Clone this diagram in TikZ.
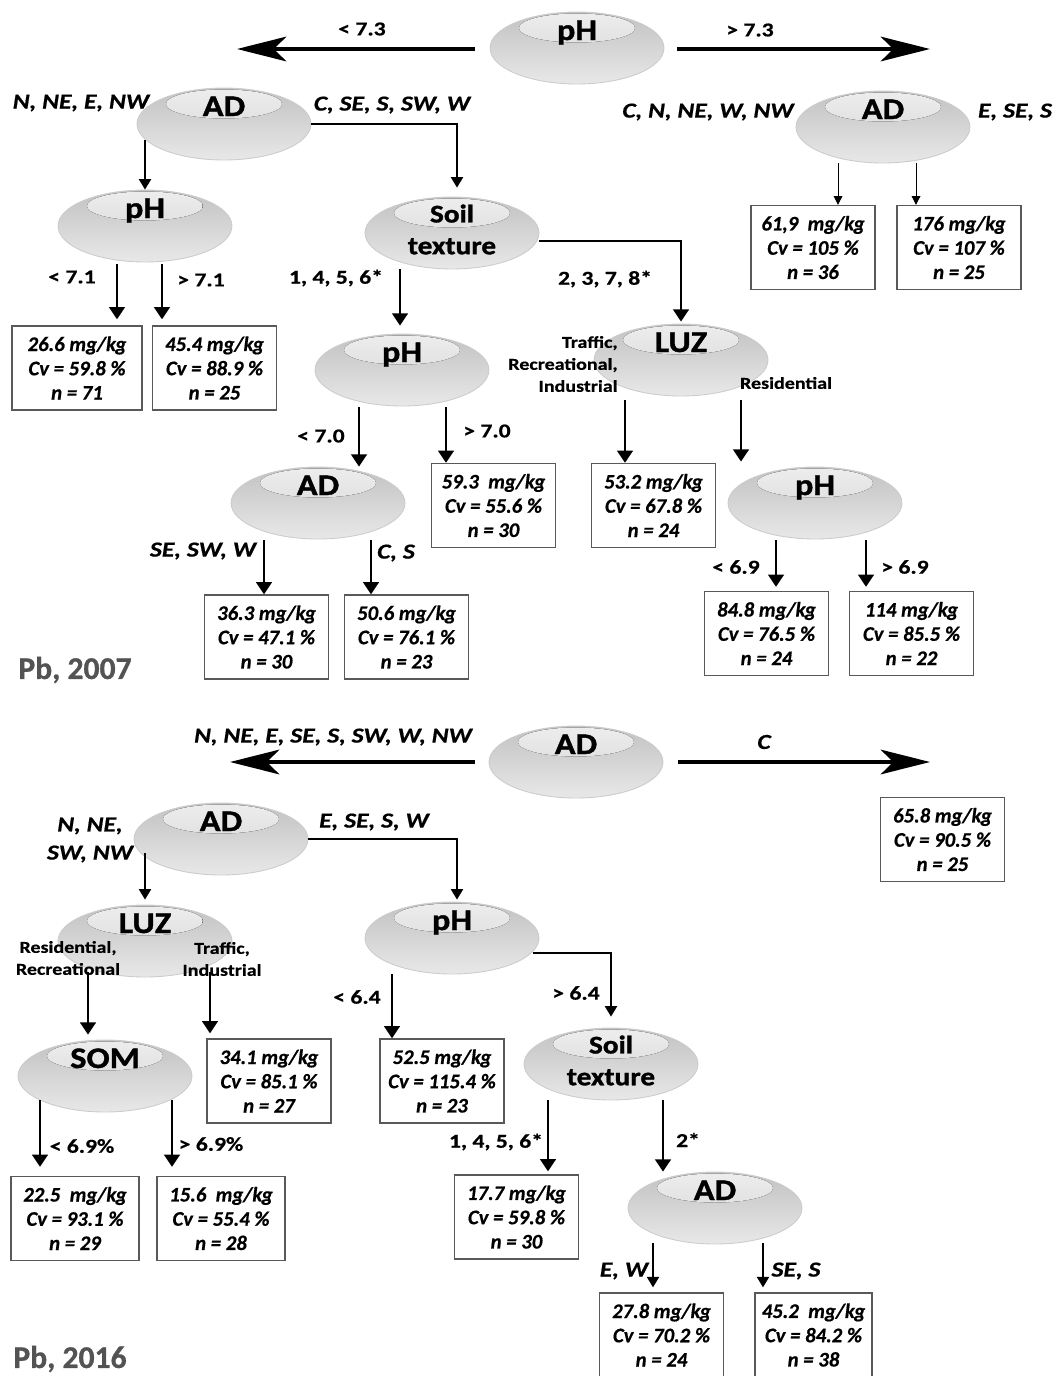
\documentclass[tikz,border=0pt]{standalone}
\usepackage{fontspec}
\setmainfont{Carlito}
\newfontfamily\titlefont[FakeStretch=1.15,FakeBold=1.2]{Carlito Bold}
\newfontfamily\labfont[FakeStretch=1.2,FakeBold=0.6]{Carlito Bold}
\newfontfamily\labitfont[FakeStretch=1.2,FakeBold=0.6]{Carlito Bold Italic}
\newfontfamily\boxfont[FakeBold=0.6]{Carlito Bold Italic}
\newfontfamily\yrfont[FakeBold=0.8]{Carlito Bold}
\usetikzlibrary{shapes.geometric,arrows.meta}

\tikzset{
  blob/.style={ellipse,inner sep=0pt,minimum width=3.48cm,minimum height=1.44cm,
    draw=gray!40,line width=0.5pt,top color=gray!48,bottom color=gray!18,
    path picture={\fill[top color=gray!14,bottom color=gray!34]
      ([yshift=-0.32cm]path picture bounding box.north) ellipse (1.16cm and 0.29cm);}},
  btxt/.style={font=\titlefont\fontsize{17}{18.1}\selectfont,inner sep=0pt,align=center},
  soiltxt/.style={font=\titlefont\fontsize{14.5}{18.1}\selectfont,inner sep=0pt,align=center},
  res/.style={draw=gray!70!black,line width=0.8pt,minimum width=2.48cm,minimum height=1.68cm,
    inner sep=0pt,align=center,font=\boxfont\fontsize{11.8}{13.8}\selectfont},
  cond/.style={font=\labfont\fontsize{11.2}{13}\selectfont,inner sep=0pt},
  dirlab/.style={font=\labitfont\fontsize{12.2}{16}\selectfont,inner sep=0pt,align=center},
  luzlab/.style={font=\labfont\fontsize{9.5}{12.5}\selectfont,inner sep=0pt},
  yr/.style={font=\yrfont\fontsize{18}{20}\selectfont,text=gray!65!black,inner sep=0pt},
  big/.style={line width=2.2pt,-{Stealth[length=28pt,width=14pt,inset=7pt]}},
  arr/.style={line width=1.4pt,-{Triangle[length=7pt,width=9pt]}},
  marr/.style={line width=0.9pt,-{Triangle[length=6pt,width=7pt]}},
  tarr/.style={line width=0.5pt,-{Triangle[length=5pt,width=5pt]}}
}

\begin{document}
\begin{tikzpicture}[x=0.02cm,y=0.02cm]
  \useasboundingbox (0,0) rectangle (1055,-1376);
  % Pb, 2007
  \node[blob] (ph0) at (577,-48) {};
  \node[btxt,anchor=base] (ph0t) at ([yshift=0.16cm]ph0.center) {pH};
  \coordinate (lt) at (237,-49);
  \coordinate (rt) at (930,-49);
  \draw[big] (ph0.west) ++(-15,-1) -- (lt);
  \draw[big] (ph0.east) ++(13,-1) -- (rt);
  \node[cond] (c73a) at (362,-29) {< 7.3};
  \node[cond] (c73b) at (750,-30) {> 7.3};

  \node[blob] (adL) at (224,-124) {};
  \node[btxt,anchor=base] (adLt) at ([yshift=0.16cm]adL.center) {AD};
  \node[dirlab] (dL1) at (81,-103) {N, NE, E, NW};
  \node[dirlab] (dL2) at (392,-105) {C, SE, S, SW, W};
  \node[blob] (adR) at (883,-127) {};
  \node[btxt,anchor=base] (adRt) at ([yshift=0.16cm]adR.center) {AD};
  \node[dirlab] (dR1) at (708,-112) {C, N, NE, W, NW};
  \node[dirlab] (dR2) at (1015,-112) {E, SE, S};

  \node[blob] (ph1) at (145,-226) {};
  \node[btxt,anchor=base] (ph1t) at ([yshift=0.16cm]ph1.center) {pH};
  \node[blob] (soil1) at (452,-233) {};
  \node[soiltxt] (soil1t) at ([yshift=0.07cm]soil1.center) {Soil\\texture};
  \node[cond] (c71a) at (72,-277) {< 7.1};
  \node[cond] (c71b) at (201,-280) {> 7.1};
  \node[cond] (tx1) at (336,-278) {1, 4, 5, 6*};
  \node[cond] (tx2) at (605,-279) {2, 3, 7, 8*};

  \node[res,minimum width=2.6cm] (a1) at (77,-368) {26.6 mg/kg\\Cv = 59.8 \%\\n = 71};
  \node[res] (b1) at (214.5,-368) {45.4 mg/kg\\Cv = 88.9 \%\\n = 25};
  \node[res] (c1) at (813,-247.5) {61,9 \ mg/kg\\Cv = 105 \%\\n = 36};
  \node[res] (d1) at (959,-247.5) {176 mg/kg\\Cv = 107 \%\\n = 25};

  \node[blob] (ph2) at (402,-370) {};
  \node[btxt,anchor=base] (ph2t) at ([yshift=0.16cm]ph2.center) {pH};
  \node[blob] (luz1) at (681,-360) {};
  \node[btxt,anchor=base] (luz1t) at ([yshift=0.16cm]luz1.center) {LUZ};
  \node[luzlab,align=right,anchor=east] (lz1) at (618,-364) {Traffic,\\Recreational,\\Industrial};
  \node[luzlab] (lz2) at (786,-383) {Residential};
  \node[cond] (c70a) at (321,-436) {< 7.0};
  \node[cond] (c70b) at (487,-431) {> 7.0};
  \node[res] (e1) at (493.5,-505.5) {59.3 \ mg/kg\\Cv = 55.6 \%\\n = 30};
  \node[res] (f1) at (653.5,-505.5) {53.2 mg/kg\\Cv = 67.8 \%\\n = 24};

  \node[blob] (ad2) at (318,-503) {};
  \node[btxt,anchor=base] (ad2t) at ([yshift=0.16cm]ad2.center) {AD};
  \node[blob] (ph3) at (815,-503) {};
  \node[btxt,anchor=base] (ph3t) at ([yshift=0.16cm]ph3.center) {pH};
  \node[dirlab] (d21) at (203,-551) {SE, SW, W};
  \node[dirlab] (d22) at (396,-553) {C, S};
  \node[cond] (c69a) at (736,-567) {< 6.9};
  \node[cond] (c69b) at (905,-567) {> 6.9};
  \node[res] (g1) at (266.5,-637) {36.3 mg/kg\\Cv = 47.1 \%\\n = 30};
  \node[res] (h1) at (406.5,-637) {50.6 mg/kg\\Cv = 76.1 \%\\n = 23};
  \node[res] (i1) at (766.5,-633.5) {84.8 mg/kg\\Cv = 76.5 \%\\n = 24};
  \node[res] (j1) at (911.5,-633.5) {114 mg/kg\\Cv = 85.5 \%\\n = 22};
  \node[yr] (y1) at (75,-670) {Pb, 2007};

  \draw[marr] (adL.south) ++(-79,20) coordinate (t) -- (t |- ph1.north);
  \draw[marr,shorten >=0.18cm] (adL.east) -| ([xshift=0.1cm]soil1.north);
  \draw[arr,shorten >=0.12cm] (ph1.south) ++(-28,-2) coordinate (t) -- (t |- a1.north);
  \draw[arr,shorten >=0.12cm] (ph1.south) ++(17,-2) coordinate (t) -- (t |- b1.north);
  \draw[arr,shorten >=0.16cm] (soil1.south) ++(-52,0) coordinate (t) -- (t |- ph2.north);
  \draw[arr,shorten >=0.04cm] (soil1.east) ++(0,-8) -| (luz1.north);
  \draw[tarr] (adR.south) ++(-45,0) coordinate (t) -- (t |- c1.north);
  \draw[tarr] (adR.south) ++(33,0) coordinate (t) -- (t |- d1.north);
  \draw[arr] (ph2.south) ++(-43,-1) coordinate (t) -- (t |- ad2.north);
  \draw[arr] (ph2.south) ++(44,-1) coordinate (t) -- (t |- e1.north);
  \draw[arr] (luz1.south) ++(-56,-4) coordinate (t) -- (t |- f1.north);
  \draw[arr,shorten >=0.1cm] (luz1.south) ++(60,-4) coordinate (t) -- (t |- ph3.north);
  \draw[arr] (ad2.south) ++(-54,-1) coordinate (t) -- (t |- g1.north);
  \draw[arr] (ad2.south) ++(53,-1) coordinate (t) -- (t |- h1.north);
  \draw[arr,shorten >=0.08cm] (ph3.south) ++(-39,-1) coordinate (t) -- (t |- i1.north);
  \draw[arr,shorten >=0.08cm] (ph3.south) ++(51,-1) coordinate (t) -- (t |- j1.north);

  % Pb, 2016
  \node[blob] (ad0) at (576,-762) {};
  \node[btxt,anchor=base] (ad0t) at ([yshift=0.16cm]ad0.center) {AD};
  \coordinate (lt2) at (230,-762);
  \coordinate (rt2) at (930,-762);
  \draw[big] (ad0.west) ++(-14,0) -- (lt2);
  \draw[big] (ad0.east) ++(15,0) -- (rt2);
  \node[dirlab] (d01) at (333,-737) {N, NE, E, SE, S, SW, W, NW};
  \node[dirlab] (d02) at (764,-742) {C};
  \node[res] (k2) at (942.5,-839.5) {65.8 mg/kg\\Cv = 90.5 \%\\n = 25};

  \node[blob] (ad3) at (221,-839) {};
  \node[btxt,anchor=base] (ad3t) at ([yshift=0.16cm]ad3.center) {AD};
  \node[dirlab] (d31) at (90,-840) {N, NE,\\SW, NW};
  \node[dirlab] (d32) at (374,-822) {E, SE, S, W};

  \node[blob] (luz2) at (145,-941) {};
  \node[btxt,anchor=base] (luz2t) at ([yshift=0.16cm]luz2.center) {LUZ};
  \node[luzlab,align=center] (lz3) at (68,-958) {Residential,\\Recreational};
  \node[luzlab,align=center] (lz4) at (222,-959) {Traffic,\\Industrial};
  \node[blob] (ph4) at (452,-938) {};
  \node[btxt,anchor=base] (ph4t) at ([yshift=0.16cm]ph4.center) {pH};
  \node[cond] (c64a) at (357,-997) {< 6.4};
  \node[cond] (c64b) at (576,-993) {> 6.4};

  \node[blob] (som) at (105,-1076) {};
  \node[btxt,anchor=base] (somt) at ([yshift=0.16cm]som.center) {SOM};
  \node[res] (l2) at (269,-1081) {34.1 mg/kg\\Cv = 85.1 \%\\n = 27};
  \node[res] (m2) at (442,-1081) {52.5 mg/kg\\Cv = 115.4 \%\\n = 23};
  \node[blob] (soil2) at (611,-1064) {};
  \node[soiltxt] (soil2t) at ([yshift=0.07cm]soil2.center) {Soil\\texture};
  \node[cond] (s69a) at (82,-1146) {< 6.9\%};
  \node[cond] (s69b) at (211,-1144) {> 6.9\%};
  \node[cond] (tx3) at (496,-1142) {1, 4, 5, 6*};
  \node[cond] (tx4) at (688,-1140) {2*};
  \node[res,minimum width=2.56cm] (n2) at (75,-1218.5) {22.5 \ mg/kg\\Cv = 93.1 \%\\n = 29};
  \node[res,minimum width=2.56cm] (o2) at (221,-1218.5) {15.6 \ mg/kg\\Cv = 55.4 \%\\n = 28};
  \node[res] (p2) at (516.5,-1217) {17.7 mg/kg\\Cv = 59.8 \%\\n = 30};

  \node[blob] (ad4) at (715,-1208) {};
  \node[btxt,anchor=base] (ad4t) at ([yshift=0.16cm]ad4.center) {AD};
  \node[dirlab] (d41) at (624,-1271) {E, W};
  \node[dirlab] (d42) at (796,-1271) {SE, S};
  \node[res] (q2) at (661.5,-1335) {27.8 mg/kg\\Cv = 70.2 \%\\n = 24};
  \node[res,minimum width=2.34cm] (r2) at (813.5,-1335) {45.2 \ mg/kg\\Cv = 84.2 \%\\n = 38};
  \node[yr] (y2) at (70,-1359) {Pb, 2016};

  \draw[marr,shorten >=0.1cm] (ad3.south) ++(-76,22) coordinate (t) -- (t |- luz2.north);
  \draw[marr,shorten >=0.04cm] (ad3.east) -| ([xshift=0.1cm]ph4.north);
  \draw[arr,shorten >=0.1cm] (luz2.south) ++(-57,5) coordinate (t) -- (t |- som.north);
  \draw[arr,shorten >=0.1cm] (luz2.south) ++(65,5) coordinate (t) -- (t |- l2.north);
  \draw[arr] (ph4.south) ++(-60,0) coordinate (t) -- (t |- m2.north);
  \draw[marr,shorten >=0.22cm] (ph4.east) ++(-6,-15) -| (soil2.north);
  \draw[arr,shorten >=0.18cm] (som.south) ++(-65,12) coordinate (t) -- (t |- n2.north);
  \draw[arr,shorten >=0.18cm] (som.south) ++(67,12) coordinate (t) -- (t |- o2.north);
  \draw[arr,shorten >=0.06cm] (soil2.south) ++(-63,0) coordinate (t) -- (t |- p2.north);
  \draw[arr] (soil2.south) ++(52,0) coordinate (t) -- (t |- ad4.north);
  \draw[marr,shorten >=0.1cm] (ad4.south) ++(-62,1) coordinate (t) -- (t |- q2.north);
  \draw[marr,shorten >=0.1cm] (ad4.south) ++(48,1) coordinate (t) -- (t |- r2.north);
\end{tikzpicture}
\end{document}
